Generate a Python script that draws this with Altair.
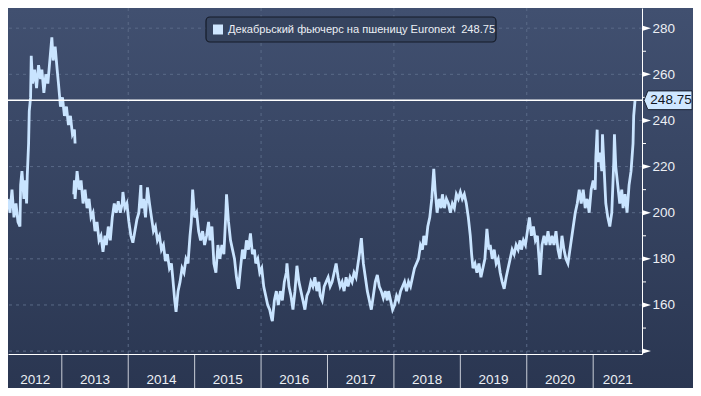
import altair as alt
import pandas as pd

# ---- data (decimal year, price EUR/t) ----
seg_a_points = [
    (2012.19, 206), (2012.22, 200), (2012.25, 210), (2012.28, 198), (2012.31, 204),
    (2012.34, 196), (2012.37, 194), (2012.38, 212), (2012.40, 218), (2012.43, 206),
    (2012.45, 214), (2012.47, 204), (2012.48, 216), (2012.50, 230), (2012.51, 244),
    (2012.53, 250), (2012.54, 268), (2012.56, 256), (2012.59, 262), (2012.62, 254),
    (2012.65, 264), (2012.68, 258), (2012.70, 262), (2012.73, 252), (2012.76, 260),
    (2012.79, 256), (2012.82, 266), (2012.85, 276), (2012.87, 266), (2012.90, 272),
    (2012.93, 262), (2012.95, 256), (2012.98, 246), (2013.01, 250), (2013.04, 242),
    (2013.07, 246), (2013.10, 238), (2013.13, 242), (2013.16, 234), (2013.19, 236),
    (2013.20, 230),
]
seg_b_points = [
    (2013.18, 208), (2013.19, 214), (2013.20, 206), (2013.23, 218), (2013.26, 210),
    (2013.29, 214), (2013.32, 204), (2013.35, 210), (2013.38, 202), (2013.41, 206),
    (2013.44, 198), (2013.47, 200), (2013.50, 192), (2013.53, 196), (2013.56, 188),
    (2013.59, 190), (2013.62, 183), (2013.65, 190), (2013.67, 186), (2013.70, 194),
    (2013.73, 188), (2013.76, 198), (2013.79, 204), (2013.82, 200), (2013.85, 205),
    (2013.88, 200), (2013.91, 204), (2013.92, 209), (2013.95, 202), (2013.98, 204),
    (2014.01, 196), (2014.04, 190), (2014.07, 187), (2014.10, 192), (2014.13, 197),
    (2014.16, 200), (2014.19, 212), (2014.20, 202), (2014.23, 206), (2014.26, 198),
    (2014.29, 211), (2014.32, 204), (2014.35, 198), (2014.38, 192), (2014.41, 194),
    (2014.44, 188), (2014.47, 190), (2014.50, 184), (2014.53, 186), (2014.56, 179),
    (2014.59, 182), (2014.62, 176), (2014.65, 178), (2014.67, 172), (2014.70, 162),
    (2014.72, 157), (2014.75, 166), (2014.78, 170), (2014.81, 176), (2014.84, 174),
    (2014.87, 180), (2014.90, 178), (2014.93, 190), (2014.95, 196), (2014.97, 210),
    (2015.00, 198), (2015.03, 200), (2015.06, 192), (2015.09, 188), (2015.12, 192),
    (2015.15, 186), (2015.18, 190), (2015.21, 196), (2015.23, 188), (2015.26, 194),
    (2015.29, 178), (2015.32, 174), (2015.35, 186), (2015.38, 180), (2015.41, 186),
    (2015.44, 182), (2015.47, 200), (2015.48, 208), (2015.51, 196), (2015.54, 188),
    (2015.57, 184), (2015.60, 180), (2015.63, 172), (2015.66, 167), (2015.69, 176),
    (2015.72, 184), (2015.75, 180), (2015.78, 188), (2015.81, 184), (2015.84, 191),
    (2015.87, 182), (2015.90, 184), (2015.92, 178), (2015.95, 180), (2015.98, 174),
    (2016.01, 176), (2016.04, 168), (2016.07, 164), (2016.10, 160), (2016.13, 158),
    (2016.16, 154), (2016.17, 153), (2016.20, 162), (2016.23, 166), (2016.26, 160),
    (2016.29, 166), (2016.32, 162), (2016.35, 170), (2016.38, 174), (2016.39, 178),
    (2016.42, 168), (2016.45, 164), (2016.48, 158), (2016.51, 166), (2016.54, 177),
    (2016.57, 170), (2016.60, 166), (2016.63, 162), (2016.66, 158), (2016.69, 164),
    (2016.72, 166), (2016.75, 170), (2016.78, 168), (2016.81, 172), (2016.84, 166),
    (2016.87, 170), (2016.89, 164), (2016.92, 162), (2016.95, 168), (2016.98, 170),
    (2017.01, 172), (2017.04, 168), (2017.07, 170), (2017.10, 174), (2017.13, 178),
    (2017.16, 172), (2017.19, 168), (2017.22, 170), (2017.25, 166), (2017.28, 172),
    (2017.31, 168), (2017.34, 172), (2017.37, 170), (2017.40, 174), (2017.43, 172),
    (2017.45, 176), (2017.48, 182), (2017.51, 189), (2017.54, 178), (2017.57, 172),
    (2017.60, 166), (2017.63, 162), (2017.66, 158), (2017.69, 164), (2017.72, 170),
    (2017.75, 173), (2017.78, 168), (2017.81, 166), (2017.84, 163), (2017.87, 166),
    (2017.90, 162), (2017.92, 166), (2017.95, 162), (2017.98, 158), (2018.01, 160),
    (2018.04, 164), (2018.07, 162), (2018.10, 166), (2018.13, 168), (2018.16, 170),
    (2018.19, 166), (2018.22, 170), (2018.25, 168), (2018.28, 172), (2018.31, 176),
    (2018.34, 178), (2018.37, 180), (2018.40, 186), (2018.43, 184), (2018.45, 190),
    (2018.48, 186), (2018.51, 194), (2018.54, 198), (2018.57, 206), (2018.60, 219),
    (2018.62, 210), (2018.65, 200), (2018.68, 206), (2018.71, 202), (2018.73, 208),
    (2018.76, 202), (2018.79, 206), (2018.82, 204), (2018.85, 200), (2018.88, 204),
    (2018.91, 202), (2018.94, 208), (2018.97, 206), (2019.00, 209), (2019.03, 206),
    (2019.06, 208), (2019.09, 204), (2019.12, 198), (2019.15, 190), (2019.17, 182),
    (2019.19, 176), (2019.22, 178), (2019.25, 174), (2019.28, 178), (2019.31, 172),
    (2019.34, 176), (2019.37, 180), (2019.40, 193), (2019.43, 184), (2019.45, 186),
    (2019.48, 180), (2019.51, 184), (2019.54, 178), (2019.57, 180), (2019.60, 174),
    (2019.63, 170), (2019.66, 167), (2019.69, 172), (2019.72, 176), (2019.75, 180),
    (2019.78, 184), (2019.81, 182), (2019.84, 186), (2019.87, 184), (2019.90, 188),
    (2019.92, 184), (2019.95, 188), (2019.98, 186), (2020.01, 192), (2020.04, 198),
    (2020.07, 190), (2020.10, 194), (2020.13, 188), (2020.16, 190), (2020.19, 178),
    (2020.20, 173), (2020.23, 186), (2020.26, 190), (2020.29, 186), (2020.32, 192),
    (2020.35, 186), (2020.38, 190), (2020.41, 186), (2020.44, 192), (2020.47, 184),
    (2020.50, 180), (2020.53, 190), (2020.56, 184), (2020.59, 180), (2020.62, 178),
    (2020.65, 184), (2020.68, 190), (2020.70, 194), (2020.73, 200), (2020.76, 204),
    (2020.79, 210), (2020.82, 204), (2020.85, 210), (2020.88, 202), (2020.91, 206),
    (2020.94, 200), (2020.97, 210), (2021.00, 214), (2021.03, 210), (2021.04, 224),
    (2021.06, 236), (2021.07, 222), (2021.10, 226), (2021.13, 218), (2021.14, 234),
    (2021.16, 222), (2021.19, 204), (2021.22, 198), (2021.25, 194), (2021.28, 200),
    (2021.31, 222), (2021.32, 234), (2021.34, 220), (2021.37, 212), (2021.40, 204),
    (2021.43, 210), (2021.45, 202), (2021.48, 208), (2021.51, 200), (2021.54, 212),
    (2021.57, 218), (2021.60, 230), (2021.61, 242), (2021.63, 248.75),
]
last_value = 248.75
series_name = "Декабрьский фьючерс на пшеницу Euronext"

y_grid_values = [140, 160, 180, 200, 220, 240, 260, 280]
y_label_values = [160, 180, 200, 220, 240, 260, 280]
y_minor_values = [150, 170, 190, 210, 230, 250, 270]
x_grid_years = [2014, 2016, 2018, 2020]
year_starts = [2013, 2014, 2015, 2016, 2017, 2018, 2019, 2020, 2021]
year_labels = ["2012", "2013", "2014", "2015", "2016", "2017", "2018", "2019", "2020", "2021"]
year_label_pos = [2012.6, 2013.5, 2014.5, 2015.5, 2016.5, 2017.5, 2018.5, 2019.5, 2020.5, 2021.37]

x_domain = [2012.19, 2021.735]
y_domain = [138.75, 288.75]

# ---- build ----
W, H = 634, 346
PAD_R, PAD_B = 51, 34
FONT = "Liberation Sans"
LINE_COLOR = "#c9e4ff"
GRID_COLOR = "#5a6a87"
TEXT_COLOR = "#eceff4"

rows = [{"t": t, "v": v, "seg": "a"} for t, v in seg_a_points]
rows += [{"t": t, "v": v, "seg": "b"} for t, v in seg_b_points]
df = pd.DataFrame(rows)

xs = alt.Scale(domain=x_domain, nice=False, zero=False)
ys = alt.Scale(domain=y_domain, nice=False, zero=False)

X_AX = alt.Axis(labels=False, ticks=False, grid=False, domain=True, domainColor="#ffffff",
                domainWidth=1, title=None, zindex=1)
Y_AX = alt.Axis(orient="right", values=y_label_values, ticks=False, grid=False, domain=True,
                domainColor="#ffffff", domainWidth=1, labelPadding=10, labelFontSize=13.5,
                labelFont=FONT, labelColor=TEXT_COLOR, title=None, zindex=1, labelFlush=False)


def X(field):
    return alt.X(field, scale=xs, axis=X_AX, title=None)


def Y(field):
    return alt.Y(field, scale=ys, axis=Y_AX, title=None)


one = pd.DataFrame({"a": [0]})

bg = alt.Chart(one).mark_rect(
    color=alt.Gradient(
        gradient="linear",
        stops=[alt.GradientStop(color="#415070", offset=0),
               alt.GradientStop(color="#2a3651", offset=1)],
        x1=0, x2=0, y1=0, y2=1,
    )
).encode(x=alt.value(0), x2=alt.value(W + PAD_R), y=alt.value(0), y2=alt.value(H + PAD_B))

hgrid = alt.Chart(pd.DataFrame({"v": y_grid_values})).mark_rule(
    color=GRID_COLOR, strokeDash=[3, 4], strokeWidth=1
).encode(y=Y("v:Q"))

vgrid = alt.Chart(pd.DataFrame({"t": x_grid_years})).mark_rule(
    color=GRID_COLOR, strokeDash=[3, 4], strokeWidth=1
).encode(x=X("t:Q"))

line = alt.Chart(df).mark_line(color=LINE_COLOR, strokeWidth=2.8, strokeJoin="miter").encode(
    x=X("t:Q"),
    y=Y("v:Q"),
    detail="seg:N",
)

hline = alt.Chart(pd.DataFrame({"v": [last_value]})).mark_rule(
    color="#ffffff", strokeWidth=1.5
).encode(y=Y("v:Q"))

arrows = alt.Chart(pd.DataFrame({"v": y_grid_values})).mark_point(
    shape="M -1 -0.6 L 1 0 L -1 0.6 Z", filled=True, color="#ffffff", size=81, opacity=1
).encode(x=alt.value(W + 4.5), y=Y("v:Q"))

minor = alt.Chart(pd.DataFrame({"v": y_minor_values})).mark_rule(
    color="#ffffff", strokeWidth=1
).encode(x=alt.value(W), x2=alt.value(W + 4), y=Y("v:Q"))

tag = alt.Chart(pd.DataFrame({"v": [last_value]})).mark_point(
    shape="M -1 0 L -0.84 -0.39 L 1 -0.39 L 1 0.39 L -0.84 0.39 Z",
    filled=True, fill="#cfe7ff", stroke="#1a2131", strokeWidth=1, size=2304, opacity=1
).encode(x=alt.value(W + 26), y=Y("v:Q"))

tag_text = alt.Chart(pd.DataFrame({"v": [last_value], "s": [f"{last_value:.2f}"]})).mark_text(
    font=FONT, fontSize=13.5, color="#111622", align="center", baseline="middle"
).encode(x=alt.value(W + 29), y=Y("v:Q"), text="s:N")

seps = alt.Chart(pd.DataFrame({"t": year_starts})).mark_rule(
    color="#c9ced8", strokeWidth=1
).encode(x=X("t:Q"), y=alt.value(H), y2=alt.value(H + PAD_B))

ylabels = alt.Chart(pd.DataFrame({"t": year_label_pos, "s": year_labels})).mark_text(
    font=FONT, fontSize=13.5, color=TEXT_COLOR, align="center", baseline="alphabetic"
).encode(x=X("t:Q"), y=alt.value(H + 30), text="s:N")

legend_box = alt.Chart(one).mark_rect(
    fill="#36445f", stroke="#151b28", strokeWidth=1.2, cornerRadius=4
).encode(x=alt.value(198), x2=alt.value(488), y=alt.value(9), y2=alt.value(34))

legend_swatch = alt.Chart(one).mark_rect(fill="#cfe7ff").encode(
    x=alt.value(205), x2=alt.value(215), y=alt.value(16.5), y2=alt.value(26.5))

legend_text = alt.Chart(pd.DataFrame({"s": [f"{series_name}\u00a0\u00a0{last_value:.2f}"]})).mark_text(
    font=FONT, fontSize=11.1, color=TEXT_COLOR, align="left", baseline="middle"
).encode(x=alt.value(220), y=alt.value(21.8), text="s:N")

chart = alt.layer(
    bg, hgrid, vgrid, line, hline, arrows, minor, tag, tag_text, seps, ylabels,
    legend_box, legend_swatch, legend_text,
).properties(
    width=W, height=H,
    padding={"left": 0, "top": 0, "right": PAD_R, "bottom": PAD_B},
    autosize=alt.AutoSizeParams(type="none"),
    background="#2f3c57",
).configure_view(stroke=None)

chart.save("out.html", embed_options={"renderer": "svg", "actions": False})
